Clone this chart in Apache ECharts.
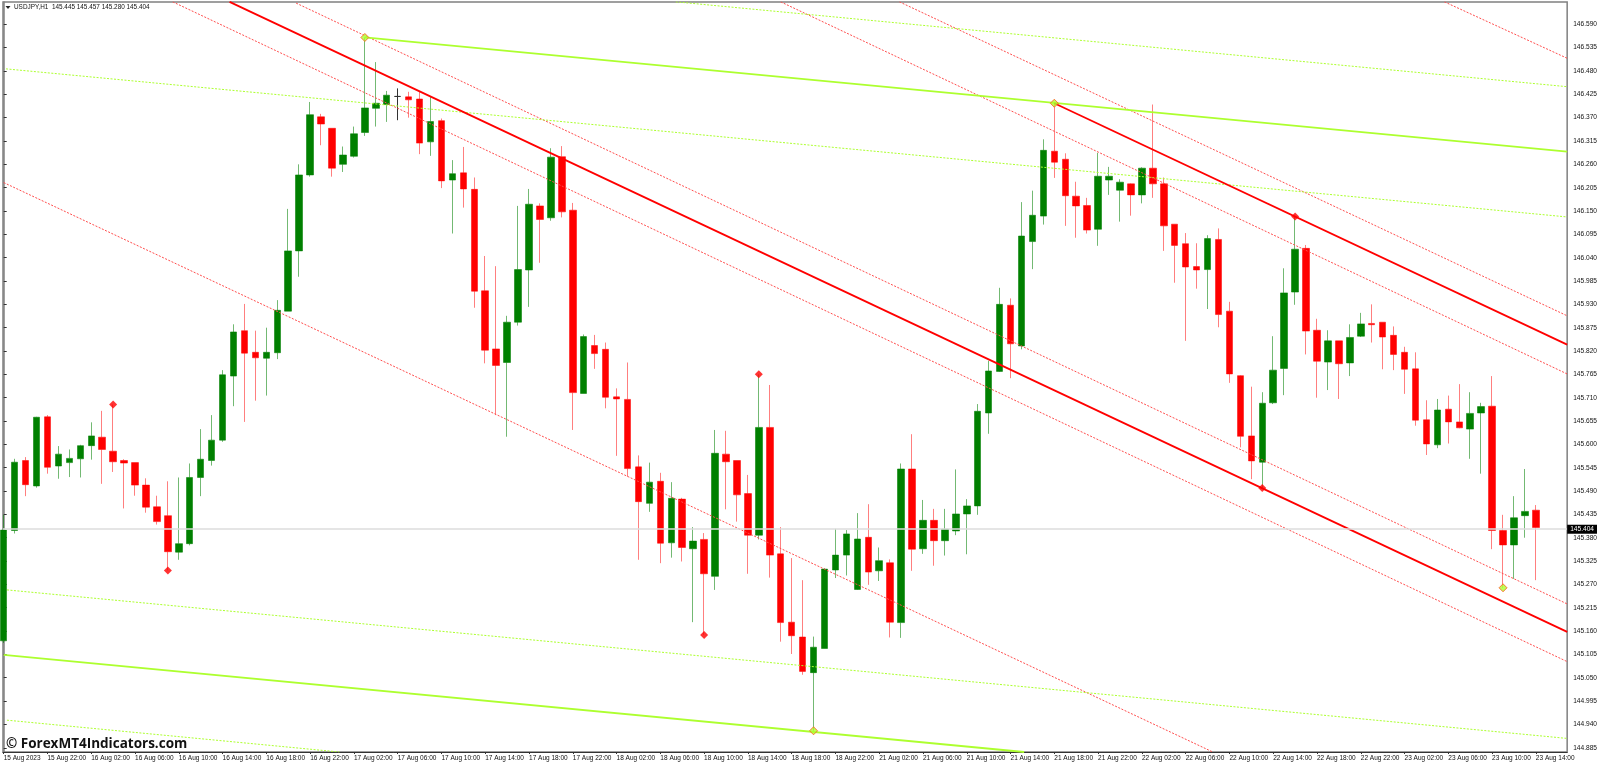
<!DOCTYPE html>
<html>

<head>
    <meta charset="utf-8" />
    <title>USDJPY,H1</title>
    <script src="https://cdn.jsdelivr.net/npm/echarts@6/dist/echarts.min.js"></script>
    <style>
        html, body { margin: 0; padding: 0; background: #fff; }
    </style>
</head>

<body>
    <div id="main" style="width: 1600px;height:765px;"></div>
    <script type="text/javascript">
        // hourly bars, 15 Aug 18:00 to 23 Aug 14:00 (weekend skipped)
        var opens = [145.137,145.397,145.562,145.502,145.665,145.549,145.557,145.566,145.597,145.617,145.584,145.562,145.557,145.504,145.453,145.432,145.346,145.366,145.522,145.562,145.610,145.761,145.868,145.817,145.803,145.816,145.914,146.056,146.235,146.372,146.345,146.260,146.279,146.335,146.392,146.401,146.420,146.419,146.414,146.313,146.363,146.223,146.240,146.201,145.962,145.825,145.793,145.888,146.011,146.162,146.134,146.278,146.152,145.720,145.833,145.824,145.712,145.706,145.547,145.461,145.513,145.368,145.471,145.354,145.376,145.289,145.577,145.562,145.484,145.386,145.640,145.342,145.181,145.146,145.062,145.119,145.304,145.339,145.258,145.381,145.302,145.321,145.180,145.542,145.354,145.421,145.373,145.396,145.436,145.455,145.674,145.772,145.928,145.832,146.078,146.138,146.291,146.272,146.185,146.163,146.107,146.223,146.199,146.214,146.188,146.251,146.214,146.119,146.073,146.019,146.012,146.083,145.914,145.762,145.620,145.558,145.698,145.779,145.959,146.062,145.869,145.794,145.844,145.792,145.855,145.885,145.888,145.857,145.817,145.778,145.658,145.599,145.683,145.653,145.636,145.674,145.690,145.397,145.363,145.432,145.445];
        var closes = [145.398,145.558,145.505,145.664,145.546,145.577,145.567,145.597,145.620,145.588,145.559,145.556,145.504,145.452,145.418,145.347,145.366,145.522,145.565,145.610,145.764,145.865,145.815,145.804,145.817,145.916,146.056,146.235,146.377,146.355,146.251,146.282,146.332,146.393,146.404,146.423,146.420,146.412,146.310,146.361,146.221,146.238,146.202,145.961,145.822,145.786,145.888,146.012,146.166,146.130,146.277,146.148,145.722,145.854,145.814,145.711,145.707,145.543,145.465,145.511,145.367,145.473,145.357,145.372,145.295,145.579,145.559,145.481,145.386,145.640,145.339,145.180,145.149,145.065,145.122,145.306,145.339,145.389,145.377,145.299,145.326,145.181,145.542,145.353,145.421,145.373,145.400,145.436,145.455,145.678,145.773,145.930,145.837,146.091,146.140,146.293,146.265,146.186,146.162,146.105,146.232,146.232,146.218,146.188,146.251,146.214,146.115,146.069,146.018,146.011,146.085,145.906,145.766,145.619,145.561,145.697,145.775,145.957,146.060,145.867,145.796,145.844,145.790,145.852,145.884,145.882,145.853,145.812,145.777,145.657,145.601,145.681,145.653,145.639,145.673,145.689,145.397,145.363,145.427,145.442,145.404];
        var lows = [145.132,145.390,145.478,145.498,145.531,145.519,145.523,145.522,145.564,145.507,145.535,145.449,145.479,145.439,145.411,145.303,145.328,145.362,145.478,145.550,145.606,145.690,145.653,145.703,145.715,145.801,145.914,145.995,146.231,146.305,146.231,146.242,146.276,146.327,146.349,146.360,146.364,146.370,146.284,146.280,146.204,146.097,146.158,145.922,145.791,145.669,145.618,145.880,145.924,146.028,146.127,146.135,145.634,145.720,145.778,145.685,145.573,145.524,145.328,145.441,145.320,145.333,145.324,145.181,145.151,145.257,145.447,145.418,145.295,145.376,145.286,145.135,145.106,145.057,144.925,145.119,145.285,145.291,145.257,145.269,145.278,145.145,145.144,145.302,145.342,145.314,145.338,145.386,145.341,145.434,145.625,145.771,145.756,145.824,146.013,146.118,146.228,146.115,146.087,146.097,146.068,146.188,146.125,146.139,146.168,146.181,146.056,145.981,145.844,145.967,145.919,145.876,145.745,145.593,145.518,145.497,145.695,145.716,145.929,145.812,145.710,145.728,145.707,145.761,145.853,145.840,145.777,145.775,145.719,145.644,145.575,145.591,145.602,145.638,145.566,145.531,145.353,145.262,145.283,145.380,145.280];
        var highs = [145.434,145.566,145.570,145.665,145.669,145.596,145.588,145.599,145.652,145.679,145.694,145.565,145.557,145.520,145.479,145.513,145.522,145.555,145.636,145.669,145.775,145.883,145.931,145.868,145.875,145.940,146.155,146.260,146.407,146.379,146.345,146.302,146.349,146.559,146.501,146.433,146.439,146.431,146.431,146.421,146.368,146.270,146.301,146.229,146.044,146.020,145.903,146.162,146.202,146.168,146.298,146.303,146.169,145.859,145.858,145.840,145.732,145.793,145.574,145.557,145.533,145.511,145.474,145.405,145.391,145.634,145.632,145.562,145.528,145.765,145.740,145.405,145.332,145.280,145.147,145.308,145.401,145.398,145.438,145.459,145.357,145.329,145.555,145.624,145.469,145.448,145.448,145.541,145.471,145.695,145.797,145.969,145.944,146.171,146.198,146.319,146.404,146.286,146.219,146.181,146.287,146.254,146.225,146.215,146.253,146.401,146.229,146.119,146.098,146.074,146.093,146.109,145.936,145.763,145.736,145.723,145.855,146.015,146.137,146.070,145.896,145.869,145.844,145.883,145.910,145.930,145.888,145.878,145.830,145.817,145.704,145.707,145.715,145.742,145.723,145.698,145.761,145.434,145.478,145.542,145.457];

        // time labels sit on every 4th bar
        var timeLabels = ['15 Aug 2023','15 Aug 22:00','16 Aug 02:00','16 Aug 06:00','16 Aug 10:00','16 Aug 14:00','16 Aug 18:00','16 Aug 22:00','17 Aug 02:00','17 Aug 06:00','17 Aug 10:00','17 Aug 14:00','17 Aug 18:00','17 Aug 22:00','18 Aug 02:00','18 Aug 06:00','18 Aug 10:00','18 Aug 14:00','18 Aug 18:00','18 Aug 22:00','21 Aug 02:00','21 Aug 06:00','21 Aug 10:00','21 Aug 14:00','21 Aug 18:00','21 Aug 22:00','22 Aug 02:00','22 Aug 06:00','22 Aug 10:00','22 Aug 14:00','22 Aug 18:00','22 Aug 22:00','23 Aug 02:00','23 Aug 06:00','23 Aug 10:00','23 Aug 14:00'];
        var priceTicks = [144.885,144.940,144.995,145.050,145.105,145.160,145.215,145.270,145.325,145.380,145.435,145.490,145.545,145.600,145.655,145.710,145.765,145.820,145.875,145.930,145.985,146.040,146.095,146.150,146.205,146.260,146.315,146.370,146.425,146.480,146.535,146.590];
        var lastPrice = 145.404;

        // trend lines as [bar, price] end points
        var redSolid = [
            [[20.64,146.643],[142.86,145.158]],
            [[96,146.404],[142.86,145.835]]
        ];
        var redDotted = [
            [[0,146.217],[110.48,144.875]],
            [[15.44,146.643],[142.86,145.088]],
            [[26.72,146.640],[142.86,145.224]],
            [[81.84,146.643],[142.86,145.903]],
            [[70.99,146.643],[142.86,145.766]],
            [[131.64,146.643],[142.86,146.510]]
        ];
        var greenSolid = [
            [[33,146.559],[142.86,146.290]],
            [[0,145.104],[93.24,144.875]]
        ];
        var greenDotted = [
            [[0.21,146.485],[142.86,146.136]],
            [[61.41,146.643],[142.86,146.443]],
            [[0.3,145.257],[142.86,144.907]],
            [[0.3,144.950],[30.67,144.875]]
        ];

        // pivot bars
        var redHighPivots = [10, 69, 118];
        var redLowPivots = [15, 64, 115];
        var greenHighPivots = [33, 96];
        var greenLowPivots = [74, 137];

        var UP = '#008000', DOWN = '#ff0000', LIME = '#adff2f';

        function lineSeries(list, color, width, type) {
            return list.map(function (pts) {
                return {
                    type: 'line', data: pts, showSymbol: false, silent: true, z: 4,
                    lineStyle: { color: color, width: width, type: type }
                };
            });
        }
        function pivots(idx, src) {
            return idx.map(function (i) { return [i, src[i]]; });
        }

        var candles = opens.map(function (o, i) {
            return [i, o, closes[i], lows[i], highs[i]];
        });

        var myChart = echarts.init(document.getElementById('main'));

        var option = {
            animation: false,
            backgroundColor: '#fff',
            textStyle: { fontFamily: 'Liberation Sans' },
            title: [
                {
                    text: 'USDJPY,H1  145.445 145.457 145.280 145.404',
                    left: 14, top: 4, padding: 0,
                    textStyle: { fontSize: 6.4, fontWeight: 'normal', color: '#111', fontFamily: 'Liberation Sans' }
                },
                {
                    text: '© ForexMT4Indicators.com',
                    left: 6, top: 737, padding: 0,
                    textStyle: { fontSize: 13.5, fontWeight: 'bold', color: '#111', fontFamily: 'Open Sans' }
                }
            ],
            graphic: [{
                type: 'polygon', silent: true,
                shape: { points: [[5.5, 6], [10.5, 6], [8, 9]] },
                style: { fill: '#222' }
            }],
            grid: {
                show: true, left: 3, right: 30, top: 2, bottom: 13,
                borderColor: '#808080', borderWidth: 1.5, backgroundColor: '#fff'
            },
            xAxis: {
                type: 'value', min: -0.064, max: 142.86,
                axisLine: { show: true, onZero: false, lineStyle: { color: '#333', width: 1 } },
                axisTick: {
                    show: true, length: 2, lineStyle: { color: '#333' },
                    customValues: timeLabels.map(function (t, k) { return k * 4; })
                },
                axisLabel: {
                    show: true, margin: 3, fontSize: 6.5, color: '#111', align: 'left',
                    hideOverlap: false, showMinLabel: true, showMaxLabel: true,
                    customValues: timeLabels.map(function (t, k) { return k * 4; }),
                    formatter: function (v) { return timeLabels[Math.round(v / 4)]; }
                },
                splitLine: { show: false }
            },
            yAxis: {
                type: 'value', position: 'right', min: 144.875, max: 146.6426, scale: true,
                axisLine: { show: true, lineStyle: { color: '#808080', width: 1.5 } },
                axisTick: { show: true, length: 3, lineStyle: { color: '#333' }, customValues: priceTicks },
                axisLabel: {
                    show: true, margin: 6, fontSize: 6.6, color: '#111',
                    customValues: priceTicks,
                    formatter: function (v) { return v.toFixed(3); }
                },
                splitLine: { show: false }
            },
            series: [
                {
                    // last price line, under the bars
                    type: 'line', data: [], z: 1, silent: true,
                    markLine: {
                        silent: true, symbol: 'none', animation: false,
                        lineStyle: { color: '#dcdcdc', width: 1.5, type: 'solid' },
                        label: {
                            position: 'end', distance: 0, color: '#fff', backgroundColor: '#000',
                            padding: [1, 3], fontSize: 6.6, formatter: lastPrice.toFixed(3)
                        },
                        data: [{ yAxis: lastPrice }]
                    }
                },
                {
                    type: 'candlestick', data: candles, z: 2, silent: true, barWidth: 7,
                    encode: { x: 0, y: [1, 2, 3, 4] },
                    itemStyle: {
                        color: UP, color0: DOWN,
                        borderColor: 'rgba(0,128,0,0.55)', borderColor0: 'rgba(255,0,0,0.5)',
                        borderColorDoji: '#333', borderWidth: 1
                    }
                }
            ].concat(
                lineSeries(redDotted, '#ff4d4d', 1, [2, 1.5]),
                lineSeries(greenDotted, LIME, 1, [2, 1.5]),
                lineSeries(greenSolid, LIME, 1.8, 'solid'),
                lineSeries(redSolid, DOWN, 1.8, 'solid'),
                [
                    {
                        type: 'scatter', symbol: 'diamond', symbolSize: 8, z: 5, silent: true,
                        data: pivots(redHighPivots, highs).concat(pivots(redLowPivots, lows)),
                        itemStyle: { color: DOWN }
                    },
                    {
                        type: 'scatter', symbol: 'diamond', symbolSize: 8, z: 5, silent: true,
                        data: pivots(greenHighPivots, highs).concat(pivots(greenLowPivots, lows)),
                        itemStyle: { color: LIME, borderColor: '#ff5a1e', borderWidth: 1 }
                    }
                ]
            )
        };

        myChart.setOption(option);
    </script>
</body>

</html>
